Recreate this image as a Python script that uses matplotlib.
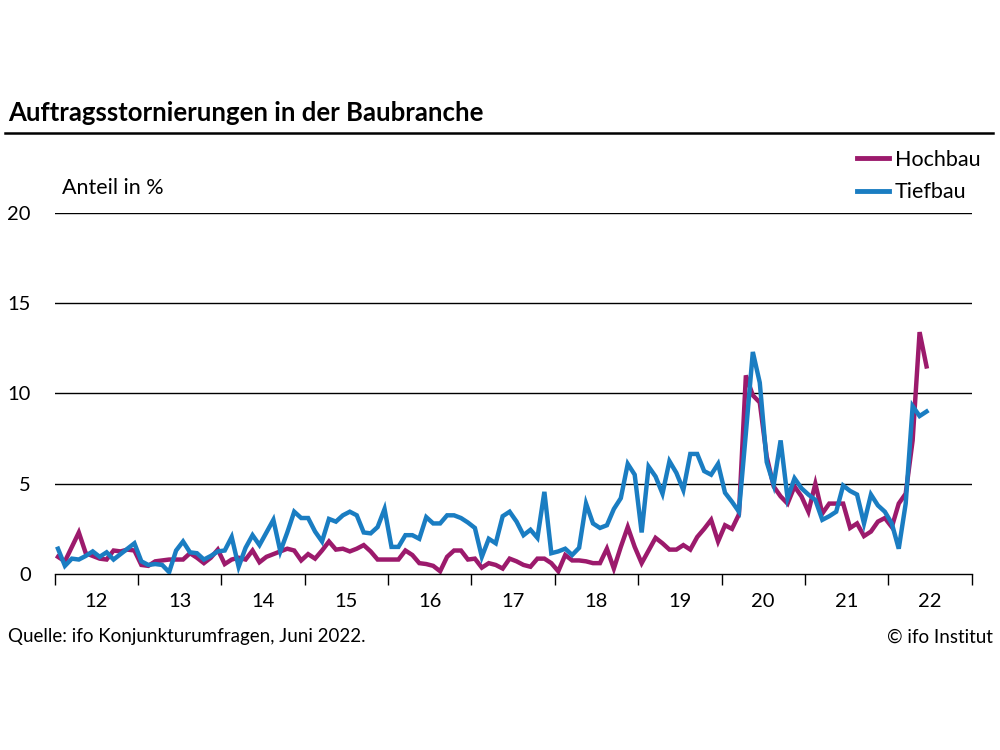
import numpy as np
import matplotlib
matplotlib.use("Agg")
import matplotlib.pyplot as plt
from matplotlib.lines import Line2D

plt.rcParams["font.family"] = ["Lato", "DejaVu Sans"]

# monthly shares in %, Jan 2012 - Jun 2022
hochbau = [
    0.95, 0.7, 1.5, 2.3, 1.15, 1.0, 0.85, 0.8, 1.3, 1.25, 1.35, 1.3,      # 2012
    0.5, 0.45, 0.7, 0.75, 0.8, 0.8, 0.8, 1.15, 0.9, 0.6, 0.9, 1.35,       # 2013
    0.55, 0.8, 0.9, 0.8, 1.3, 0.65, 0.95, 1.1, 1.25, 1.4, 1.3, 0.75,      # 2014
    1.1, 0.85, 1.3, 1.8, 1.35, 1.4, 1.25, 1.4, 1.6, 1.25, 0.8, 0.8,       # 2015
    0.8, 0.8, 1.3, 1.05, 0.6, 0.55, 0.45, 0.15, 0.95, 1.3, 1.3, 0.8,      # 2016
    0.85, 0.35, 0.6, 0.5, 0.3, 0.85, 0.7, 0.5, 0.4, 0.85, 0.85, 0.6,      # 2017
    0.15, 1.05, 0.75, 0.75, 0.7, 0.6, 0.6, 1.4, 0.3, 1.5, 2.6, 1.5,       # 2018
    0.6, 1.3, 2.0, 1.7, 1.35, 1.35, 1.6, 1.35, 2.05, 2.5, 3.0, 1.8,       # 2019
    2.7, 2.5, 3.3, 11.0, 9.9, 9.5, 6.5, 4.85, 4.3, 3.9, 4.85, 4.3,        # 2020
    3.45, 5.0, 3.35, 3.9, 3.9, 3.9, 2.55, 2.8, 2.1, 2.35, 2.9, 3.1,       # 2021
    2.6, 3.9, 4.45, 7.4, 13.4, 11.5,                                      # 2022
]
tiefbau = [
    1.4, 0.45, 0.85, 0.8, 1.0, 1.25, 0.95, 1.2, 0.8, 1.1, 1.4, 1.7,       # 2012
    0.7, 0.5, 0.55, 0.5, 0.1, 1.3, 1.8, 1.2, 1.15, 0.8, 1.0, 1.25,        # 2013
    1.3, 2.05, 0.4, 1.45, 2.15, 1.6, 2.3, 3.0, 1.25, 2.3, 3.45, 3.1,      # 2014
    3.1, 2.35, 1.8, 3.05, 2.9, 3.25, 3.45, 3.25, 2.3, 2.25, 2.6, 3.6,     # 2015
    1.5, 1.5, 2.15, 2.15, 1.95, 3.15, 2.8, 2.8, 3.25, 3.25, 3.1, 2.85,    # 2016
    2.55, 0.95, 1.95, 1.7, 3.2, 3.45, 2.9, 2.15, 2.45, 2.0, 4.55, 1.15,   # 2017
    1.25, 1.4, 1.05, 1.45, 3.9, 2.8, 2.55, 2.7, 3.6, 4.2, 6.1, 5.5,       # 2018
    2.3, 5.95, 5.4, 4.45, 6.25, 5.6, 4.65, 6.65, 6.65, 5.7, 5.5, 6.1,     # 2019
    4.5, 4.0, 3.45, 7.8, 12.3, 10.6, 6.2, 4.95, 7.4, 4.2, 5.3, 4.75,      # 2020
    4.4, 4.1, 3.0, 3.2, 3.45, 4.9, 4.6, 4.4, 2.8, 4.4, 3.8, 3.45,         # 2021
    2.8, 1.4, 3.9, 9.3, 8.75, 9.0,                                        # 2022
]
years = list(range(2012, 2023))
year_labels = [str(y)[2:] for y in years]
y_ticks = [0, 5, 10, 15, 20]

months = np.arange(len(hochbau))
x = 2012 + (months + 0.5) / 12

col_hoch = "#9c1a6c"
col_tief = "#1a7dc2"

fig = plt.figure(figsize=(10, 7.5), dpi=100)
ax = fig.add_axes([0.0545, 0.2347, 0.9172, 0.4813])

for g in y_ticks[1:]:
    ax.axhline(g, color="black", lw=1.0, zorder=1)

ax.plot(x, tiefbau, color=col_tief, lw=3.2, solid_joinstyle="miter", zorder=3)
ax.plot(x, hochbau, color=col_hoch, lw=3.2, solid_joinstyle="miter", zorder=2)

ax.set_xlim(2012, 2023)
ax.set_ylim(0, 20)
for s in ["top", "right", "left"]:
    ax.spines[s].set_visible(False)
ax.spines["bottom"].set_linewidth(1.0)

ax.set_xticks(range(2012, 2024))
ax.set_xticklabels([])
ax.set_xticks([y + 0.5 for y in years], minor=True)
ax.set_xticklabels(year_labels, minor=True)
ax.tick_params(axis="x", which="major", length=8, width=1.0, direction="out")
ax.tick_params(axis="x", which="minor", length=0, pad=14, labelsize=14.5)
ax.set_yticks(y_ticks)
ax.set_yticklabels([str(v) for v in y_ticks])
ax.tick_params(axis="y", length=0, pad=17, labelsize=14.5)

fig.text(0.062, 0.749, "Anteil in %", fontsize=15.5, va="center", ha="left")

fig.text(0.008, 0.849, "Auftragsstornierungen in der Baubranche",
         fontsize=18.5, fontweight="bold", va="center", ha="left")
fig.add_artist(Line2D([0.005, 0.993], [0.823, 0.823], color="black", lw=1.8))

handles = [Line2D([], [], color=col_hoch, lw=3.5), Line2D([], [], color=col_tief, lw=3.5)]
fig.legend(handles, ["Hochbau", "Tiefbau"], loc="upper right",
           bbox_to_anchor=(0.991, 0.815), frameon=False, fontsize=15.5,
           handlelength=1.5, handletextpad=0.25, labelspacing=0.6, borderpad=0)

fig.text(0.008, 0.151, "Quelle: ifo Konjunkturumfragen, Juni 2022.", fontsize=13.5,
         va="center", ha="left")
fig.text(0.993, 0.151, "\u00a9 ifo Institut", fontsize=13.5, va="center", ha="right")

fig.savefig("out.png", dpi=100)
